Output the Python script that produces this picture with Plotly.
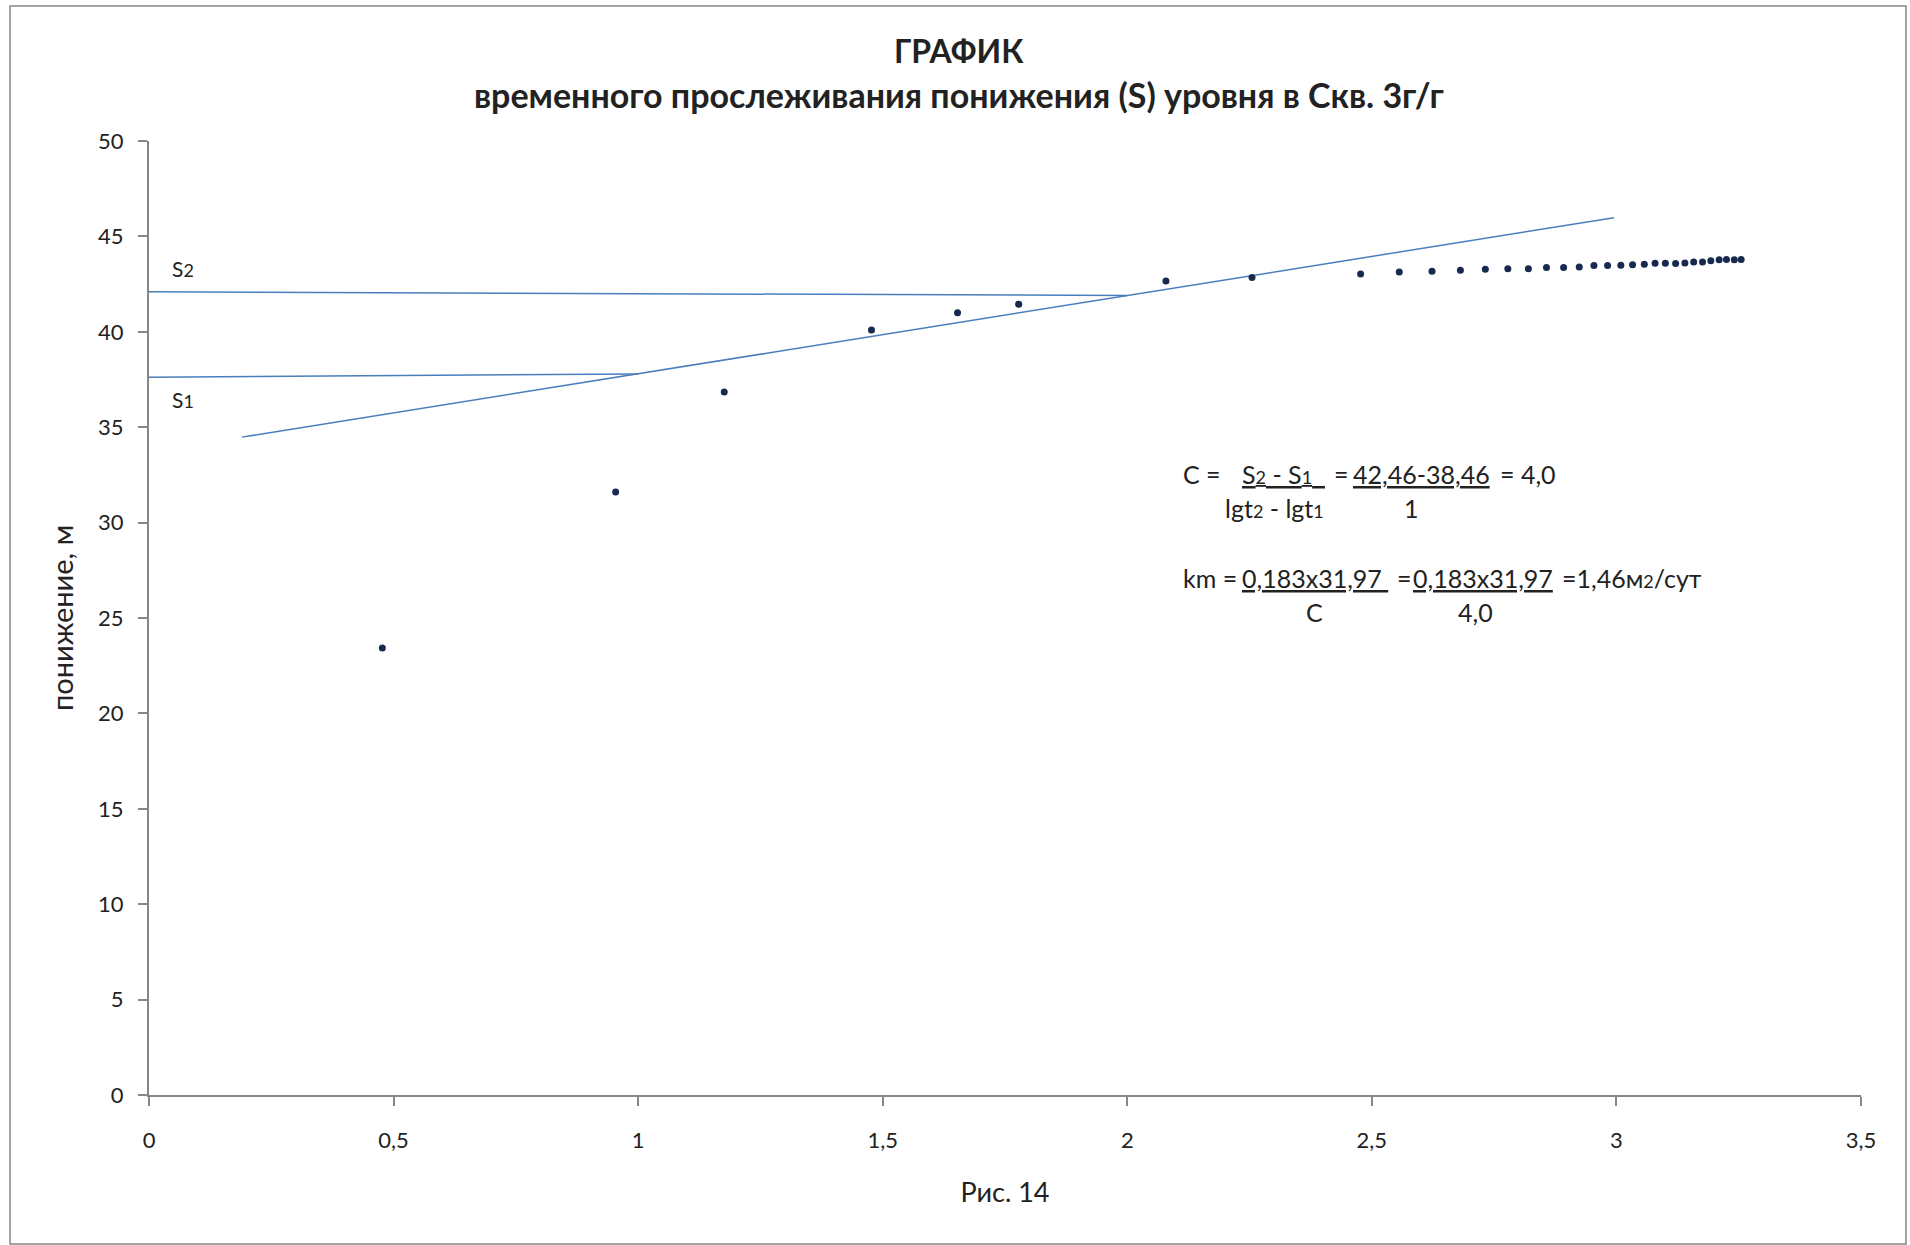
import plotly.graph_objects as go

# ---- data ----
lg_t = [0.477, 0.954, 1.176, 1.477, 1.653, 1.778, 2.079, 2.255, 2.477, 2.556,
        2.623, 2.681, 2.732, 2.778, 2.820, 2.857, 2.892, 2.924, 2.954, 2.982,
        3.009, 3.033, 3.057, 3.079, 3.100, 3.121, 3.140, 3.158, 3.176, 3.193,
        3.210, 3.225, 3.241, 3.255]
drawdown = [23.43, 31.61, 36.85, 40.10, 41.00, 41.44, 42.66, 42.85, 43.03, 43.14,
            43.17, 43.23, 43.28, 43.31, 43.31, 43.37, 43.37, 43.40, 43.47, 43.47,
            43.49, 43.52, 43.54, 43.59, 43.59, 43.58, 43.61, 43.66, 43.66, 43.72,
            43.77, 43.79, 43.77, 43.79]

trend_x = [0.19, 2.995]
trend_y = [34.48, 45.98]
s1_x = [-0.01, 1.0]
s1_y = [37.62, 37.79]
s2_x = [0.0, 2.0]
s2_y = [42.10, 41.90]

x_ticks = [0, 0.5, 1, 1.5, 2, 2.5, 3, 3.5]
y_ticks = [0, 5, 10, 15, 20, 25, 30, 35, 40, 45, 50]

FONT = "Lato"
LINE_C = "#4A7EBB"
PT_C = "#17294F"
AX_C = "#868686"
TXT = "#222222"

fig = go.Figure()
for xs, ys in [(trend_x, trend_y), (s1_x, s1_y), (s2_x, s2_y)]:
    fig.add_trace(go.Scatter(x=xs, y=ys, mode="lines", cliponaxis=False,
                             line=dict(color=LINE_C, width=1.5),
                             showlegend=False, hoverinfo="skip"))
fig.add_trace(go.Scatter(x=lg_t, y=drawdown, mode="markers",
                         marker=dict(color=PT_C, size=7),
                         showlegend=False))

W, H = 1910, 1245
L, R, T, B = 149, 49, 141, 150
pw, ph = W - L - R, H - T - B


def px_x(p):
    return (p - L) / pw


def px_y(p):
    return (H - B - p) / ph


ann = []


def add(text, x, y, size=25, xanchor="left", ref="data"):
    ann.append(dict(text=text, x=x, y=y, xref="x" if ref == "data" else "paper",
                    yref="y" if ref == "data" else "paper",
                    xanchor=xanchor, yanchor="middle", showarrow=False,
                    font=dict(family=FONT, size=size, color=TXT)))


U = '<span style="text-decoration:underline">'

# title
add("<b>ГРАФИК</b>", px_x(959), px_y(50), size=32, xanchor="center", ref="paper")
add("<b>временного прослеживания понижения (S) уровня в Скв. 3г/г</b>",
    px_x(959), px_y(95), size=34, xanchor="center", ref="paper")

sm = '<span style="font-size:18px">'
# S labels
add("S" + sm + "2</span>", 0.042, 43.3, size=21)
add("S" + sm + "1</span>", 0.042, 36.46, size=21)

# formula block
add("C =", 2.109, 32.57)
add(U + "S" + sm + "2</span> - S" + sm + "1</span>\u00a0\u00a0</span>", 2.231, 32.57)
add("=", 2.418, 32.57)
add(U + "42,46-38,46</span>", 2.457, 32.57)
add("= 4,0", 2.758, 32.57)
add("lgt" + sm + "2</span> - lgt" + sm + "1</span>", 2.196, 30.78)
add("1", 2.582, 30.78, xanchor="center")
add("km =", 2.109, 27.08)
add(U + "0,183x31,97\u00a0</span>", 2.231, 27.08)
add("=", 2.548, 27.08)
add(U + "0,183x31,97</span>", 2.580, 27.08)
add("=1,46м" + sm + "2</span>/сут", 2.885, 27.08)
add("C", 2.382, 25.29, xanchor="center")
add("4,0", 2.711, 25.29, xanchor="center")

fig.update_layout(
    width=W, height=H,
    margin=dict(l=L, r=R, t=T, b=B, autoexpand=False),
    paper_bgcolor="white", plot_bgcolor="white",
    separators=", ",
    font=dict(family=FONT, color=TXT),
    annotations=ann,
    shapes=[dict(type="rect", xref="paper", yref="paper",
                 x0=px_x(10), x1=px_x(1906), y0=px_y(1244), y1=px_y(6),
                 line=dict(color=AX_C, width=1.5), layer="below")],
    xaxis=dict(range=[0, 3.5], tickvals=x_ticks, showgrid=False, zeroline=False,
               showline=True, linecolor=AX_C, linewidth=2,
               ticks="outside", ticklen=9, tickwidth=1.5, tickcolor=AX_C,
               tickfont=dict(family=FONT, size=22, color=TXT),
               ticklabelstandoff=16,
               title=dict(text="Рис. 14", standoff=31,
                          font=dict(family=FONT, size=27, color=TXT))),
    yaxis=dict(range=[0, 50], tickvals=y_ticks, showgrid=False, zeroline=False,
               showline=True, linecolor=AX_C, linewidth=2,
               ticks="outside", ticklen=9, tickwidth=1.5, tickcolor=AX_C,
               tickfont=dict(family=FONT, size=22, color=TXT),
               ticklabelstandoff=10,
               title=dict(text="понижение, м", standoff=16,
                          font=dict(family=FONT, size=29, color=TXT))),
)

css_js = (
    "var s=document.createElement('style');"
    "s.textContent='text,tspan{text-decoration-skip-ink:none;"
    "text-decoration-thickness:1.5px;text-underline-offset:2px;}';"
    "document.head.appendChild(s);"
)
fig.write_html("out.html", post_script=css_js)
